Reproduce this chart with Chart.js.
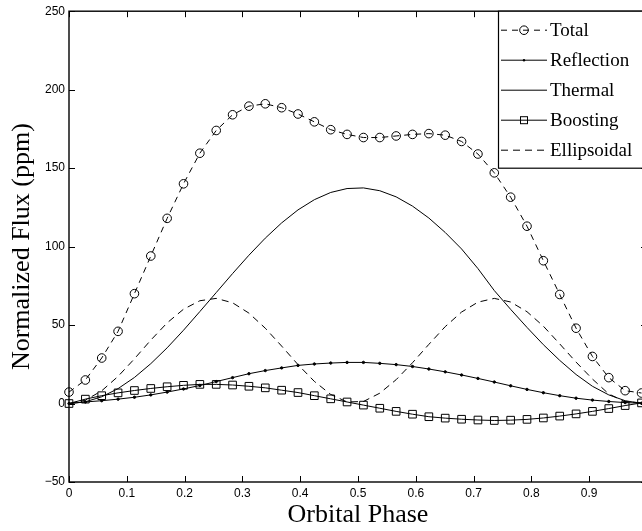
<!DOCTYPE html>
<html>
<head>
<meta charset="utf-8">
<script src="https://cdn.jsdelivr.net/npm/chart.js@4.4.1/dist/chart.umd.min.js"></script>
<style>
  html, body { margin: 0; padding: 0; overflow: hidden; background: #fff; width: 642px; height: 531px; }
  canvas { display: block; }
</style>
</head>
<body>
<canvas id="fluxChart" width="680" height="531"></canvas>
<script>
// orbital phase of each sample
const phase = [0, 0.0283, 0.0566, 0.0849, 0.1132, 0.1415, 0.1698, 0.1981, 0.2264, 0.2547,
  0.2830, 0.3113, 0.3396, 0.3679, 0.3962, 0.4245, 0.4528, 0.4811, 0.5094, 0.5377,
  0.5660, 0.5943, 0.6226, 0.6509, 0.6792, 0.7075, 0.7358, 0.7641, 0.7924, 0.8207,
  0.8490, 0.8773, 0.9056, 0.9339, 0.9622, 0.9905];

// flux components in ppm
const total = [7.3, 15, 29, 46, 70, 94, 118, 140, 159.5, 174, 184, 189.5, 191, 188.5, 184.5, 179.5,
  174.5, 171.5, 169.5, 169.5, 170.5, 171.5, 172, 171, 167, 159, 147, 131.5, 113, 91, 69.5, 48, 30,
  16.5, 8.2, 6.7];
const reflection = [0, 1, 1.8, 2.8, 4, 5.5, 7.3, 9.3, 11.5, 14, 16.5, 19, 21, 22.7, 24.3, 25.2, 25.8,
  26.2, 26.2, 25.6, 24.8, 23.6, 22, 20.2, 18.2, 16, 13.7, 11.3, 9, 6.9, 5, 3.4, 2.2, 1.3, 0.6, 0.2];
const thermal = [0, 1.1, 4.3, 9.5, 16.6, 25.4, 35.5, 46.7, 58.6, 70.7, 82.8, 94.5, 105.4, 115.1, 123.4,
  129.9, 134.5, 137, 137.4, 135.6, 131.7, 125.8, 118.2, 109, 98.5, 86, 72, 60, 48.5, 37.5, 27.5, 18.5,
  11, 5.5, 1.8, 0.1];
const boosting = [0, 2.8, 5, 6.8, 8.3, 9.6, 10.7, 11.6, 12.2, 12.2, 11.8, 11, 10, 8.5, 7, 5, 3, 1, -1,
  -3, -5, -6.8, -8.4, -9.3, -10, -10.5, -10.8, -10.6, -10.1, -9.2, -8, -6.6, -5, -3.2, -1.3, 0.4];
const ellipsoidal = [0, 2.1, 8.1, 17.3, 28.5, 40.4, 51.4, 60.1, 65.5, 67, 64.2, 57.6, 48, 36.6, 24.8,
  14.1, 5.8, 1, 1.3, 6.6, 15.2, 26, 37.7, 49, 58.3, 64.6, 67, 64.7, 58.5, 49.3, 38, 26.4, 15.6, 6.1,
  1.1, 0.5];

const xTicks = [0, 0.1, 0.2, 0.3, 0.4, 0.5, 0.6, 0.7, 0.8, 0.9, 1];
const yTicks = [-50, 0, 50, 100, 150, 200, 250];
const seriesNames = ["Total", "Reflection", "Thermal", "Boosting", "Ellipsoidal"];

const toPoints = (vals) => vals.map((v, i) => ({ x: phase[i], y: v }));

const serif = "'Liberation Serif', 'Times New Roman', serif";
const sans = "'Liberation Sans', Arial, sans-serif";

// how each series looks (also used for the legend)
const looks = {
  Total: { dash: [6, 5], point: "circle", radius: 4.3, fill: "rgba(0,0,0,0)" },
  Reflection: { dash: [], point: "circle", radius: 1.2, fill: "#000" },
  Thermal: { dash: [], point: false, radius: 0, fill: "#000" },
  Boosting: { dash: [], point: "rect", radius: 5.4, fill: "rgba(0,0,0,0)" },
  Ellipsoidal: { dash: [7, 5], point: false, radius: 0, fill: "#000" },
};
const values = { Total: total, Reflection: reflection, Thermal: thermal, Boosting: boosting, Ellipsoidal: ellipsoidal };

// frame, inward ticks, axis titles and the boxed legend
const framePlugin = {
  id: "frame",
  afterDatasetsDraw(chart) {
    const { ctx, chartArea: a, scales: { x, y } } = chart;
    ctx.save();
    ctx.strokeStyle = "#000";
    ctx.lineWidth = 1;
    ctx.beginPath();
    xTicks.forEach((v) => {
      const px = Math.round(x.getPixelForValue(v)) + 0.5;
      ctx.moveTo(px, a.bottom); ctx.lineTo(px, a.bottom - 6);
      ctx.moveTo(px, a.top); ctx.lineTo(px, a.top + 6);
    });
    yTicks.forEach((v) => {
      const py = Math.round(y.getPixelForValue(v)) + 0.5;
      ctx.moveTo(a.left, py); ctx.lineTo(a.left + 6, py);
      ctx.moveTo(a.right, py); ctx.lineTo(a.right - 6, py);
    });
    ctx.stroke();
    ctx.lineWidth = 1.4;
    ctx.strokeRect(a.left, a.top, a.right - a.left, a.bottom - a.top);

    // legend
    const lx = 498, ly = a.top, lh = 157;
    ctx.fillStyle = "#fff";
    ctx.fillRect(lx, ly, chart.width - lx, lh);
    ctx.lineWidth = 1.2;
    ctx.strokeRect(lx + 0.5, ly, chart.width - lx, lh);
    ctx.font = "19px " + serif;
    ctx.textBaseline = "middle";
    ctx.textAlign = "left";
    seriesNames.forEach((name, i) => {
      const st = looks[name];
      const ry = ly + 19 + i * 30;
      ctx.strokeStyle = "#000";
      ctx.fillStyle = "#000";
      ctx.lineWidth = 1;
      ctx.setLineDash(st.dash);
      ctx.beginPath();
      ctx.moveTo(501, ry); ctx.lineTo(547, ry);
      ctx.stroke();
      ctx.setLineDash([]);
      if (st.point === "circle") {
        ctx.beginPath();
        ctx.arc(524, ry, st.radius, 0, Math.PI * 2);
        if (st.radius < 2) ctx.fill(); else ctx.stroke();
      } else if (st.point === "rect") {
        ctx.strokeRect(520.5, ry - 3.5, 7, 7);
      }
      ctx.fillText(name, 550, ry + 1);
    });

    // axis titles
    ctx.fillStyle = "#000";
    ctx.font = "26px " + serif;
    ctx.textAlign = "center";
    ctx.textBaseline = "middle";
    ctx.fillText("Orbital Phase", (a.left + 647) / 2, 515);
    ctx.translate(22, (a.top + a.bottom) / 2);
    ctx.rotate(-Math.PI / 2);
    ctx.fillText("Normalized Flux (ppm)", 0, 0);
    ctx.restore();
  },
};

new Chart(document.getElementById("fluxChart"), {
  type: "line",
  data: {
    datasets: seriesNames.map((name) => {
      const st = looks[name];
      return {
        label: name,
        data: toPoints(values[name]),
        borderColor: "#000",
        borderWidth: 1,
        borderDash: st.dash,
        pointStyle: st.point,
        pointRadius: st.radius,
        pointBorderWidth: 1,
        pointBorderColor: "#000",
        pointBackgroundColor: st.fill,
        tension: 0,
        clip: false,
      };
    }),
  },
  options: {
    responsive: false,
    devicePixelRatio: 1,
    animation: false,
    layout: { padding: { left: 0, right: 33, top: 6, bottom: 0 } },
    plugins: { legend: { display: false }, tooltip: { enabled: false } },
    scales: {
      x: {
        type: "linear",
        min: 0,
        max: 1,
        afterBuildTicks: (s) => { s.ticks = xTicks.map((v) => ({ value: v })); },
        afterFit: (s) => { s.height = 49; },
        grid: { display: false, drawTicks: false },
        border: { display: false },
        ticks: {
          padding: 4,
          color: "#000",
          font: { family: sans, size: 12 },
          maxRotation: 0,
          autoSkip: false,
          callback: (v) => (v === 0 ? "0" : v === 1 ? "1" : v.toFixed(1)),
        },
      },
      y: {
        min: -50,
        max: 250,
        afterBuildTicks: (s) => { s.ticks = yTicks.map((v) => ({ value: v })); },
        afterFit: (s) => { s.width = 69; },
        grid: { display: false, drawTicks: false },
        border: { display: false },
        ticks: {
          padding: 4,
          color: "#000",
          font: { family: sans, size: 12 },
          callback: (v) => (v < 0 ? "\u2212" + Math.abs(v) : String(v)),
        },
      },
    },
  },
  plugins: [framePlugin],
});
</script>
</body>
</html>
